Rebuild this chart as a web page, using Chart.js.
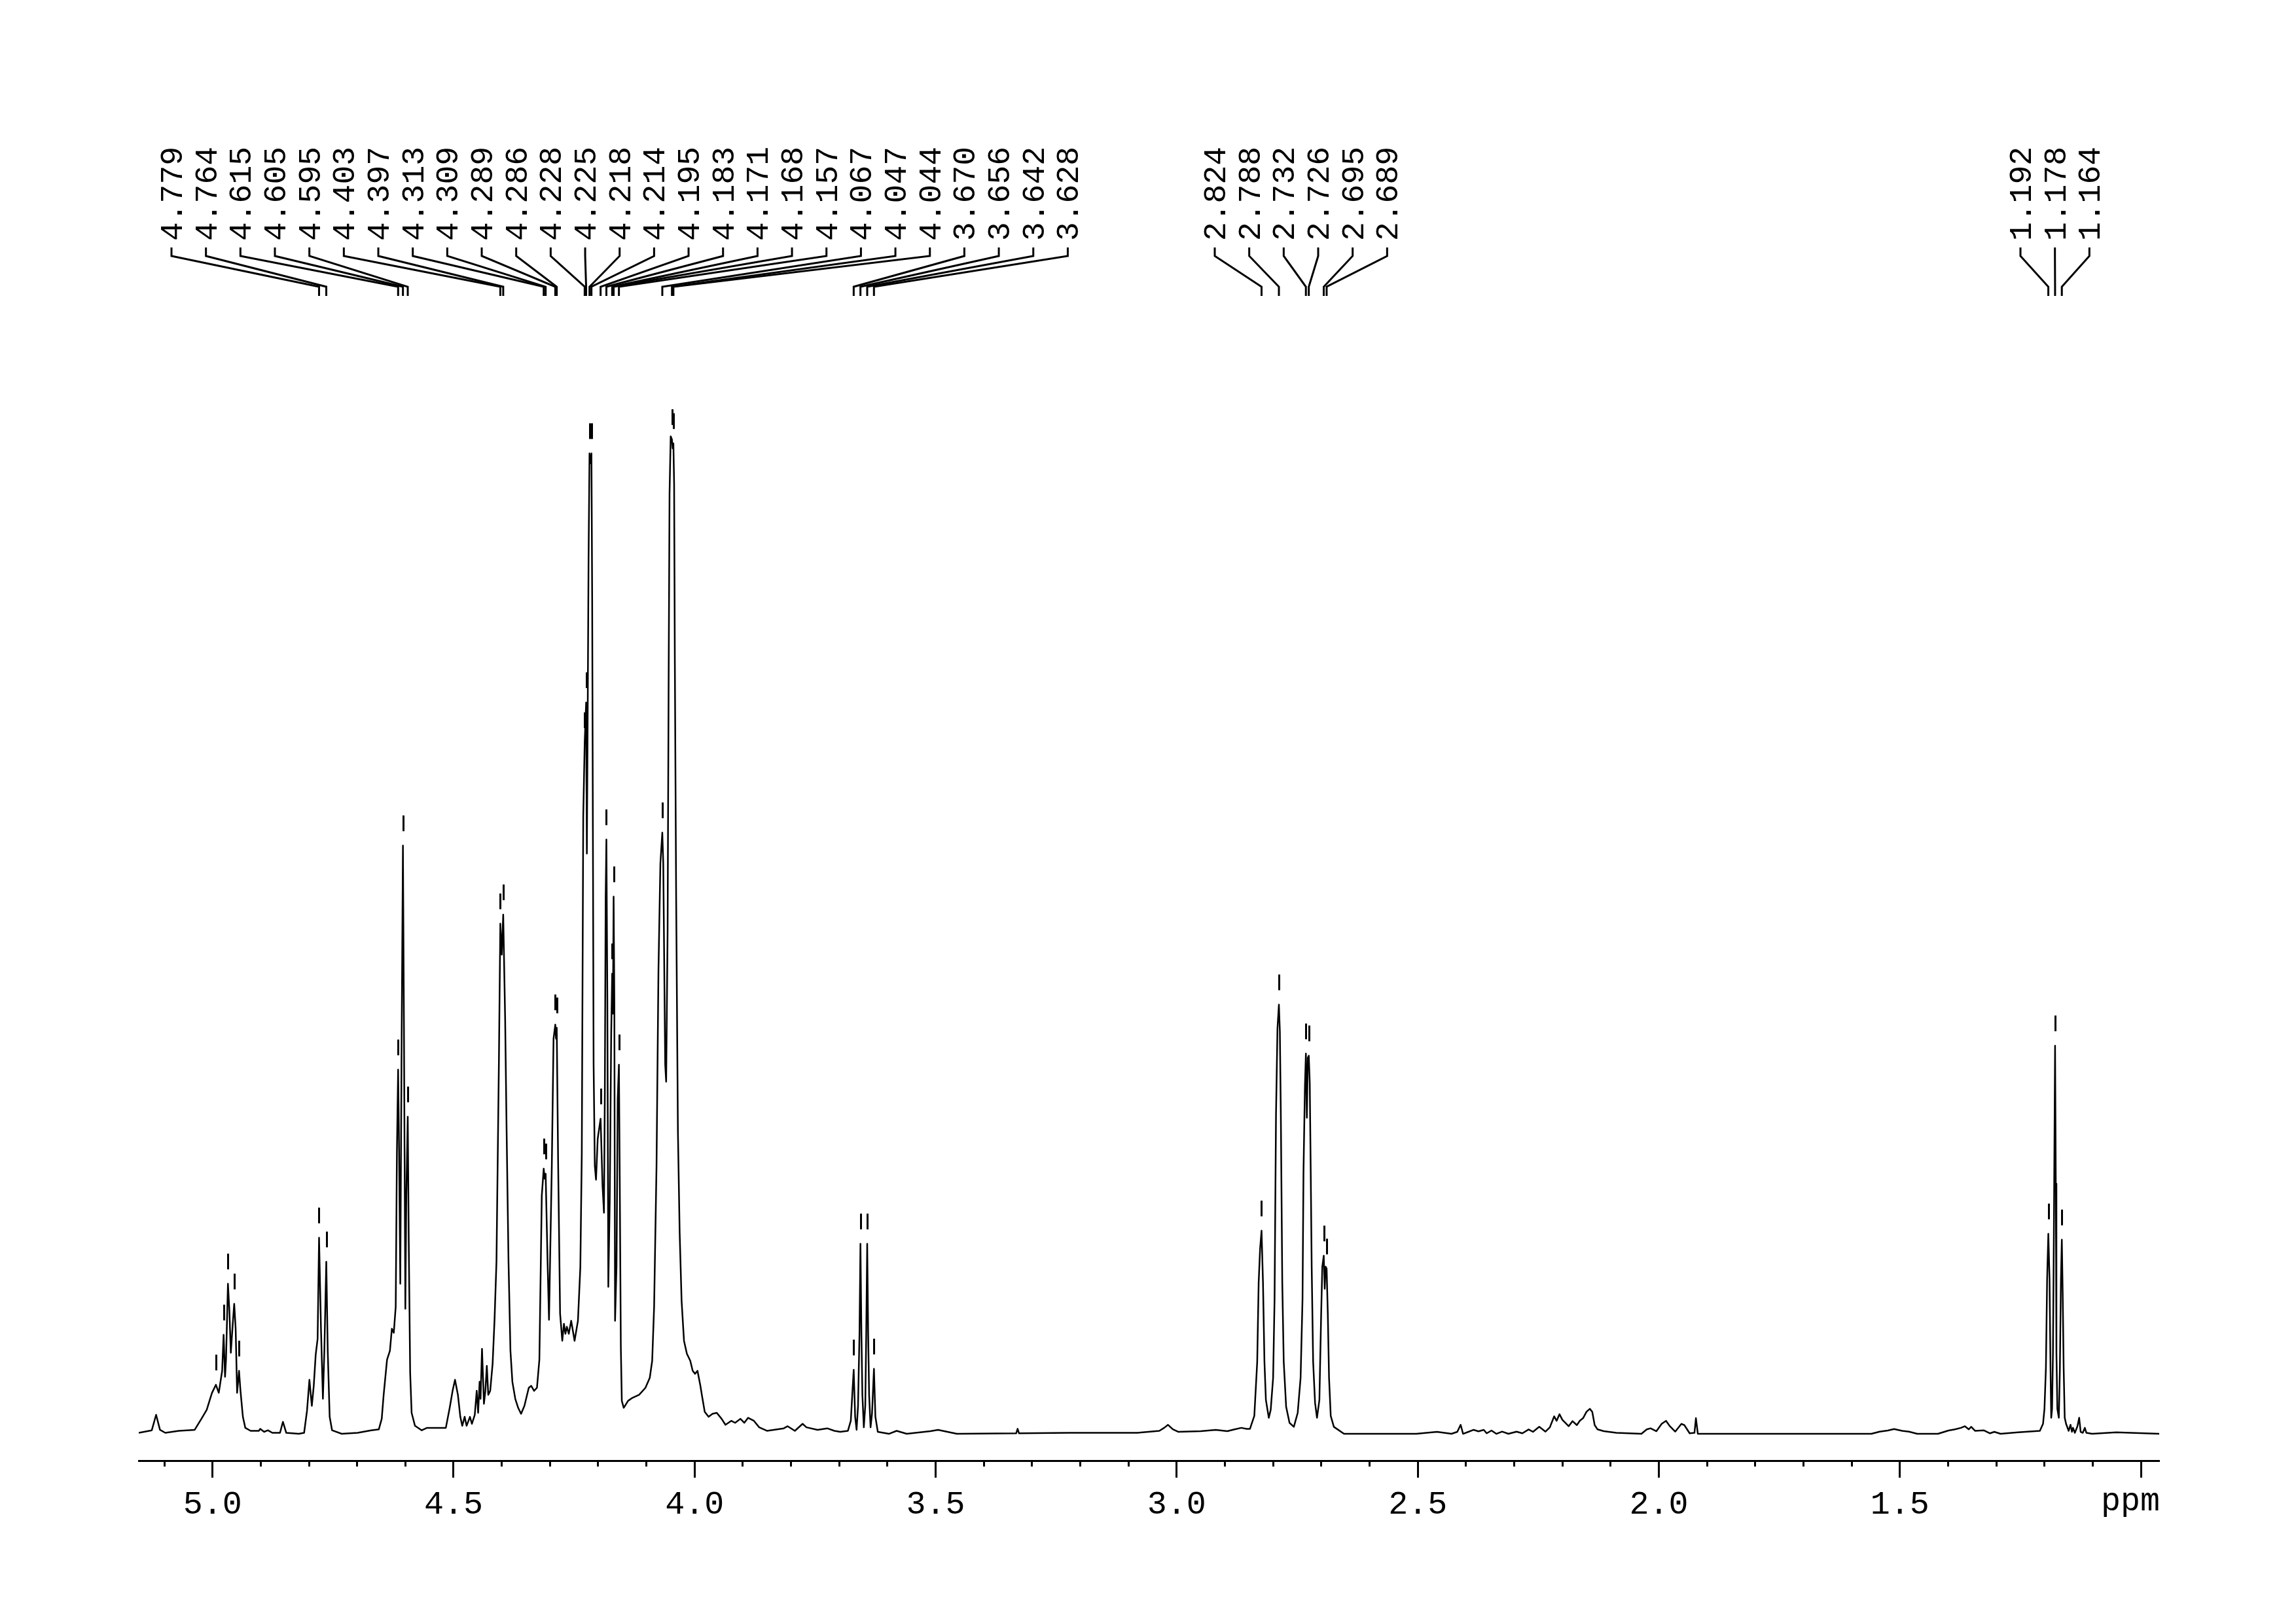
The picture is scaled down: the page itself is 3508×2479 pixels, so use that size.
<!DOCTYPE html>
<html>
<head>
<meta charset="utf-8">
<script src="https://cdn.jsdelivr.net/npm/chart.js@4.4.1/dist/chart.umd.min.js"></script>
<style>
  html, body { margin: 0; padding: 0; background: #fff; }
</style>
</head>
<body>
<canvas id="nmr" width="3508" height="2479"></canvas>
<script>
// 1H trace: shift (ppm) and intensity (tallest = 100)
// 5.15 - 4.66 ppm
const ppmA = [
  5.153, 5.126, 5.117, 5.109, 5.098, 5.070, 5.037, 5.023, 5.012, 5.005,
  5.001, 4.993, 4.987, 4.980, 4.977, 4.974, 4.972, 4.968, 4.965, 4.962,
  4.958, 4.955, 4.952, 4.949, 4.945, 4.942, 4.937, 4.932, 4.921, 4.904,
  4.901, 4.893, 4.885, 4.876, 4.860, 4.854, 4.847, 4.821, 4.810, 4.804,
  4.799, 4.794, 4.790, 4.786, 4.782, 4.779, 4.775, 4.771, 4.768, 4.764,
  4.761, 4.757, 4.752, 4.732, 4.699, 4.671
];
const intA = [
  0.1, 0.35, 1.9, 0.4, 0.1, 0.3, 0.4, 1.5, 2.4, 3.5,
  4.1, 4.9, 4.1, 6.3, 9.9, 5.7, 7.4, 15.0, 12.3, 8.1,
  11.0, 13.0, 10.5, 4.1, 6.3, 4.3, 1.7, 0.6, 0.3, 0.3,
  0.5, 0.2, 0.35, 0.1, 0.1, 1.2, 0.1, 0, 0.1, 2.3,
  5.4, 2.8, 4.8, 7.9, 9.5, 19.6, 10.5, 3.5, 8.3, 17.2,
  8.3, 1.7, 0.35, 0, 0.1, 0.35
];
// 4.66 - 4.30 ppm
const ppmB = [
  4.655, 4.649, 4.645, 4.638, 4.632, 4.628, 4.624, 4.620, 4.6175, 4.615,
  4.613, 4.6105, 4.608, 4.605, 4.603, 4.600, 4.598, 4.595, 4.593, 4.590,
  4.587, 4.580, 4.566, 4.555, 4.516, 4.508, 4.502, 4.497, 4.491, 4.486,
  4.482, 4.477, 4.473, 4.466, 4.462, 4.456, 4.452, 4.449, 4.446, 4.444,
  4.441, 4.437, 4.434, 4.431, 4.428, 4.424, 4.419, 4.415, 4.411, 4.406,
  4.403, 4.400, 4.397, 4.393, 4.390, 4.386, 4.382, 4.378, 4.372, 4.366,
  4.360, 4.353, 4.344, 4.339, 4.333, 4.327, 4.322, 4.317, 4.313, 4.311,
  4.309, 4.305, 4.302
];
const intB = [
  0.45, 1.5, 3.9, 7.4, 8.3, 10.5, 10.1, 12.7, 28.2, 36.4,
  28.2, 15.0, 37.1, 58.8, 41.5, 12.5, 23.8, 31.7, 19.4, 6.1,
  2.1, 0.8, 0.35, 0.6, 0.6, 2.6, 4.3, 5.4, 3.9, 1.7,
  0.8, 1.7, 0.8, 1.7, 1.0, 1.9, 4.3, 2.1, 5.2, 3.5,
  8.5, 3.0, 4.3, 6.8, 3.9, 4.3, 7.0, 11.4, 17.2, 37.0,
  51.0, 47.9, 51.9, 41.5, 30.4, 17.2, 8.3, 5.2, 3.5, 2.6,
  2.0, 2.8, 4.6, 4.8, 4.3, 4.6, 7.4, 23.8, 26.5, 25.5,
  26.0, 17.2, 11.4
];
// 4.30 - 3.99 ppm
const ppmC = [
  4.2962, 4.2926, 4.289, 4.2875, 4.286, 4.283, 4.279, 4.2745, 4.271, 4.268,
  4.265, 4.261, 4.256, 4.249, 4.242, 4.237, 4.234, 4.231, 4.228, 4.225,
  4.2235, 4.222, 4.220, 4.218, 4.216, 4.214, 4.2125, 4.211, 4.2095, 4.207,
  4.2045, 4.201, 4.195, 4.191, 4.188, 4.1862, 4.1845, 4.183, 4.181, 4.179,
  4.176, 4.173, 4.171, 4.1695, 4.168, 4.1665, 4.165, 4.162, 4.1595, 4.157,
  4.155, 4.153, 4.151, 4.147, 4.138, 4.129, 4.115, 4.102, 4.093, 4.088,
  4.084, 4.079, 4.075, 4.071, 4.067, 4.065, 4.063, 4.061, 4.059, 4.056,
  4.054, 4.052, 4.0496, 4.047, 4.0455, 4.044, 4.0425, 4.041, 4.0383, 4.0346,
  4.031, 4.027, 4.022, 4.016, 4.009, 4.004, 3.999, 3.994, 3.988
];
const intC = [
  26.8, 39.5, 40.9, 39.5, 40.6, 26.8, 12.0, 9.3, 11.0, 10.0,
  10.7, 10.0, 11.3, 9.3, 11.3, 16.7, 28.1, 61.7, 69.1, 73.1,
  58.0, 70.0, 87.3, 98.0, 97.0, 98.0, 83.9, 60.4, 36.9, 26.8,
  25.4, 29.5, 31.5, 24.8, 22.1, 34.2, 53.7, 59.4, 43.6, 14.7,
  23.4, 40.0, 46.0, 42.0, 53.7, 43.6, 11.3, 16.7, 33.5, 36.9,
  23.4, 8.6, 3.3, 2.6, 3.3, 3.6, 3.9, 4.6, 5.6, 7.3,
  12.7, 26.8, 46.3, 57.0, 60.1, 57.0, 46.9, 36.9, 35.2, 50.3,
  73.8, 94.0, 99.7, 99.4, 98.5, 99.0, 95.0, 77.2, 53.7, 30.1,
  20.1, 13.3, 9.3, 8.0, 7.3, 6.3, 6.0, 6.3, 4.8
];
// 3.99 - 2.86 ppm
const ppmD = [
  3.985, 3.979, 3.971, 3.963, 3.954, 3.944, 3.936, 3.924, 3.916, 3.905,
  3.897, 3.889, 3.877, 3.866, 3.850, 3.815, 3.807, 3.792, 3.776, 3.768,
  3.745, 3.725, 3.710, 3.698, 3.682, 3.676, 3.673, 3.670, 3.667, 3.664,
  3.661, 3.658, 3.656, 3.654, 3.652, 3.649, 3.646, 3.644, 3.642, 3.640,
  3.638, 3.635, 3.632, 3.628, 3.625, 3.620, 3.597, 3.581, 3.560, 3.511,
  3.495, 3.456, 3.333, 3.330, 3.327, 3.223, 3.082, 3.036, 3.026, 3.018,
  3.008, 2.997, 2.950, 2.919, 2.895, 2.880, 2.866, 2.855
];
const intD = [
  3.9, 2.2, 1.7, 2.0, 2.1, 1.5, 0.9, 1.3, 1.1, 1.5,
  1.1, 1.6, 1.3, 0.65, 0.3, 0.55, 0.76, 0.3, 1.0, 0.65,
  0.4, 0.55, 0.3, 0.2, 0.3, 1.3, 3.9, 6.4, 1.7, 0.4,
  2.8, 10.0, 19.0, 10.0, 3.9, 0.65, 2.8, 10.0, 19.0, 10.0,
  3.9, 0.65, 2.0, 6.5, 1.7, 0.2, 0, 0.3, 0, 0.26,
  0.4, 0, 0.05, 0.5, 0.05, 0.1, 0.1, 0.3, 0.6, 0.9,
  0.45, 0.2, 0.26, 0.4, 0.26, 0.45, 0.6, 0.5
];
// 2.85 - 2.62 ppm
const ppmE = [
  2.848, 2.839, 2.833, 2.830, 2.827, 2.824, 2.821, 2.818, 2.815, 2.809,
  2.805, 2.800, 2.797, 2.794, 2.791, 2.788, 2.786, 2.784, 2.781, 2.778,
  2.773, 2.766, 2.757, 2.749, 2.743, 2.739, 2.737, 2.734, 2.732, 2.730,
  2.728, 2.726, 2.724, 2.722, 2.720, 2.717, 2.713, 2.709, 2.704, 2.7004,
  2.698, 2.695, 2.693, 2.691, 2.689, 2.6865, 2.684, 2.6805, 2.674, 2.653,
  2.617
];
const intE = [
  0.5, 1.8, 7.2, 15.1, 18.5, 20.3, 15.1, 7.2, 3.4, 1.6,
  2.4, 5.6, 13.5, 31.9, 40.5, 42.9, 40.2, 31.9, 15.1, 7.2,
  2.7, 1.1, 0.7, 2.1, 5.6, 13.5, 26.2, 34.8, 38.0, 31.6,
  37.6, 37.8, 35.1, 26.2, 16.7, 7.2, 3.1, 1.6, 3.4, 11.9,
  16.7, 17.8, 14.5, 16.7, 16.5, 11.9, 5.6, 1.8, 0.7, 0,
  0
];
// 2.59 - 0.96 ppm
const ppmF = [
  2.590, 2.503, 2.460, 2.430, 2.418, 2.411, 2.406, 2.395, 2.384, 2.374,
  2.363, 2.357, 2.347, 2.337, 2.325, 2.312, 2.295, 2.283, 2.270, 2.261,
  2.248, 2.235, 2.226, 2.217, 2.212, 2.206, 2.200, 2.187, 2.179, 2.170,
  2.164, 2.157, 2.150, 2.143, 2.138, 2.133, 2.127, 2.114, 2.088, 2.036,
  2.025, 2.017, 2.005, 1.994, 1.985, 1.977, 1.966, 1.953, 1.947, 1.936,
  1.926, 1.923, 1.919, 1.850, 1.724, 1.559, 1.542, 1.525, 1.512, 1.495,
  1.481, 1.464, 1.421, 1.399, 1.386, 1.373, 1.365, 1.357, 1.352, 1.344,
  1.326, 1.313, 1.304, 1.291, 1.255, 1.2095, 1.203, 1.200, 1.197, 1.1945,
  1.192, 1.1895, 1.1875, 1.186, 1.1842, 1.1824, 1.1805, 1.178, 1.1765, 1.1752,
  1.1733, 1.1702, 1.168, 1.1658, 1.164, 1.1622, 1.1602, 1.158, 1.1552, 1.1498,
  1.146, 1.143, 1.1408, 1.137, 1.1317, 1.128, 1.125, 1.1205, 1.1163, 1.113,
  1.101, 1.051, 0.962
];
const intF = [
  0, 0, 0.2, 0, 0.2, 0.9, 0, 0.2, 0.4, 0.25,
  0.4, 0.05, 0.33, 0, 0.22, 0, 0.22, 0.05, 0.44, 0.2,
  0.7, 0.22, 0.65, 1.75, 1.3, 1.96, 1.4, 0.76, 1.27, 0.87,
  1.3, 1.57, 2.2, 2.5, 2.2, 0.87, 0.44, 0.26, 0.1, 0,
  0.44, 0.55, 0.26, 1.0, 1.3, 0.76, 0.22, 1.0, 0.87, 0.05,
  0.1, 1.57, 0, 0, 0, 0, 0.22, 0.33, 0.48, 0.3,
  0.22, 0, 0, 0.33, 0.44, 0.6, 0.76, 0.45, 0.7, 0.3,
  0.35, 0.05, 0.2, 0, 0.15, 0.3, 1.0, 2.5, 6.6, 15.5,
  20.0, 15.5, 6.6, 1.6, 2.5, 8.1, 20.0, 38.8, 25.0, 8.1,
  2.5, 1.6, 6.6, 15.5, 19.4, 14.1, 6.6, 1.6, 1.0, 0.3,
  0.9, 0.2, 0.6, 0.1, 0.74, 1.6, 0.2, 0.1, 0.6, 0.1,
  0, 0.15, 0
];

const shift = [].concat(ppmA, ppmB, ppmC, ppmD, ppmE, ppmF);
const intensity = [].concat(intA, intB, intC, intD, intE, intF);

// picked peaks, printed over the spectrum in three groups
const peaksGroup1 = [4.779, 4.764, 4.615, 4.605, 4.595, 4.403, 4.397, 4.313, 4.309,
  4.289, 4.286, 4.228, 4.225, 4.218, 4.214, 4.195, 4.183, 4.171, 4.168, 4.157,
  4.067, 4.047, 4.044, 3.670, 3.656, 3.642, 3.628];
const peaksGroup2 = [2.824, 2.788, 2.732, 2.726, 2.695, 2.689];
const peaksGroup3 = [1.192, 1.178, 1.164];
// picked but not labelled
const peaksNoLabel = [4.993, 4.977, 4.968, 4.955, 4.945];

const axisLeft = 5.153;
const axisRight = 0.962;
const unitTick = 1.0;   // last tick, carries "ppm" instead of a number

// height of the trace at a peak
function heightAt(p) {
  let h = 0;
  for (let i = 0; i < shift.length - 1; i++) {
    const a = shift[i], b = shift[i + 1];
    if (Math.abs(a - p) <= 0.0016) h = Math.max(h, intensity[i]);
    if ((a - p) * (b - p) <= 0 && a !== b) {
      const t = (a - p) / (a - b);
      h = Math.max(h, intensity[i] + t * (intensity[i + 1] - intensity[i]));
    }
  }
  return h;
}

// peak ticks, vertical labels and their connector lines
const peakLabels = {
  id: 'peakLabels',
  afterDraw(chart) {
    const { ctx } = chart;
    const x = chart.scales.x, y = chart.scales.y, x2 = chart.scales.x2;
    ctx.save();
    ctx.strokeStyle = '#000';
    ctx.fillStyle = '#000';
    ctx.lineWidth = 3;

    // tick above every picked peak
    const allPeaks = [].concat(peaksGroup1, peaksGroup2, peaksGroup3, peaksNoLabel);
    allPeaks.forEach(p => {
      const px = Math.round(x.getPixelForValue(p)) + 0.5;
      const py = y.getPixelForValue(heightAt(p));
      ctx.beginPath();
      ctx.moveTo(px, py - 22);
      ctx.lineTo(px, py - 46);
      ctx.stroke();
    });

    const groups = [
      { peaks: peaksGroup1, start: 262 },
      { peaks: peaksGroup2, start: 1856 },
      { peaks: peaksGroup3, start: 3087 }
    ];
    const step = 52.67;
    ctx.font = '48px "Liberation Mono"';
    ctx.textAlign = 'left';
    ctx.textBaseline = 'alphabetic';
    groups.forEach(g => {
      g.peaks.forEach((p, i) => {
        const cx = g.start + i * step;
        const px = x.getPixelForValue(p);
        ctx.beginPath();
        ctx.moveTo(cx, 378);
        ctx.lineTo(cx, 391);
        ctx.lineTo(px, 438);
        ctx.lineTo(px, 452);
        ctx.stroke();

        ctx.save();
        ctx.translate(cx + 16, 368);
        ctx.rotate(-Math.PI / 2);
        ctx.fillText(p.toFixed(3), 0, 0);
        ctx.restore();
      });
    });

    // unit label, sits a little left of its tick
    ctx.font = '50px "Liberation Mono"';
    ctx.textAlign = 'center';
    ctx.textBaseline = 'top';
    ctx.fillText('ppm', x2.getPixelForValue(unitTick) - 16, x2.top + 26 + 12);
    ctx.restore();
  }
};

new Chart(document.getElementById('nmr'), {
  type: 'scatter',
  data: {
    datasets: [{
      data: shift.map((s, i) => ({ x: s, y: intensity[i] })),
      showLine: true,
      borderColor: '#000',
      borderWidth: 2.5,
      borderJoinStyle: 'round',
      pointRadius: 0,
      tension: 0,
      fill: false
    }]
  },
  options: {
    responsive: false,
    devicePixelRatio: 1,
    animation: false,
    layout: { padding: { left: 212, right: 209, top: 452, bottom: 0 } },
    plugins: { legend: { display: false }, tooltip: { enabled: false } },
    scales: {
      y: { display: false, min: -2.68, max: 113.74 },
      x: {
        type: 'linear', position: 'bottom', reverse: true, weight: 0,
        min: axisRight, max: axisLeft,
        ticks: { display: false, stepSize: 0.1, includeBounds: false, autoSkip: false },
        grid: { drawOnChartArea: false, tickLength: 9, tickWidth: 3, tickColor: '#000' },
        border: { display: true, color: '#000', width: 3 },
        afterFit: s => { s.height = 0; }
      },
      x2: {
        type: 'linear', position: 'bottom', reverse: true, weight: 1,
        min: axisRight, max: axisLeft,
        ticks: {
          stepSize: 0.5, includeBounds: false, autoSkip: false, maxRotation: 0,
          color: '#000', padding: 12,
          font: { family: 'Liberation Mono', size: 50 },
          callback: v => Math.abs(v - unitTick) < 1e-6 ? '' : v.toFixed(1)
        },
        grid: { drawOnChartArea: false, tickLength: 26, tickWidth: 3, tickColor: '#000' },
        border: { display: false },
        afterFit: s => { s.height = 248; }
      }
    }
  },
  plugins: [peakLabels]
});
</script>
</body>
</html>
